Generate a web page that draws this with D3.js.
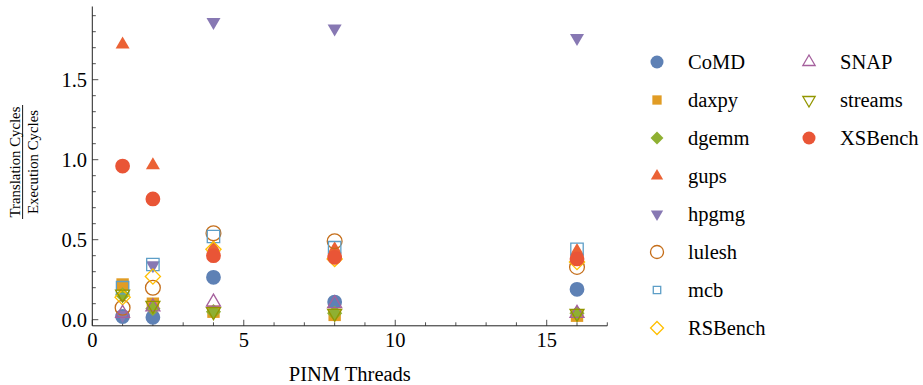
<!DOCTYPE html>
<html><head><meta charset="utf-8">
<script src="https://cdn.jsdelivr.net/npm/d3@7"></script>
<style>
html,body{margin:0;padding:0;background:#fff;}
svg{display:block;}
</style></head>
<body>
<svg id="chart" width="923" height="385" font-family="'Liberation Serif', 'Times New Roman', Tinos, 'DejaVu Serif', serif"></svg>
<script>
// ---- data ----
const threads = [1, 2, 4, 8, 16];
const seriesNames = ["CoMD","daxpy","dgemm","gups","hpgmg","lulesh","mcb","RSBench","SNAP","streams","XSBench"];
const CoMD    = [0.02, 0.015, 0.265, 0.11, 0.19];
const daxpy   = [0.22, 0.10, 0.05, 0.03, 0.025];
const dgemm   = [0.155, 0.07, 0.05, 0.04, 0.04];
const gups    = [1.72, 0.965, 0.45, 0.44, 0.43];
const hpgmg   = [0.03, 0.34, 1.86, 1.82, 1.76];
const lulesh  = [0.075, 0.20, 0.54, 0.49, 0.33];
const mcb     = [0.20, 0.345, 0.52, 0.45, 0.44];
const RSBench = [0.14, 0.27, 0.44, 0.38, 0.36];
const SNAP    = [0.04, 0.08, 0.11, 0.10, 0.04];
const streams = [0.16, 0.09, 0.05, 0.04, 0.04];
const XSBench = [0.96, 0.755, 0.40, 0.39, 0.38];
const seriesValues = [CoMD, daxpy, dgemm, gups, hpgmg, lulesh, mcb, RSBench, SNAP, streams, XSBench];
const colors = ["#5E81B5","#E19C24","#8FB032","#EB6235","#8778B3","#C56E1A","#5D9EC7","#FFBF00","#A5609D","#929600","#E95536"];
const shapes = ["circle","square","diamond","up","down","circle","square","diamond","up","down","circle"];
const filled = [true,true,true,true,true,false,false,false,false,false,true];
const xTicks = [0, 5, 10, 15];
const yTicks = [0.0, 0.5, 1.0, 1.5];
const xLabel = "PINM Threads";
const yLabelNum = "Translation Cycles";
const yLabelDen = "Execution Cycles";

// ---- layout ----
const svg = d3.select("#chart");
const x = d3.scaleLinear().domain([0, 17]).range([92.3, 607.3]);
const y = d3.scaleLinear().domain([0, 1.5]).range([319.7, 79.7]);
const axisY = 325.8;
const axisTopY = 6.5;

function shapePath(shape, s) {
  switch (shape) {
    case "circle": {
      const r = 7.4 * s;
      return `M${r},0A${r},${r},0,1,1,${-r},0A${r},${r},0,1,1,${r},0Z`;
    }
    case "square": {
      const h = 6.2 * s;
      return `M${-h},${-h}H${h}V${h}H${-h}Z`;
    }
    case "diamond": {
      const h = 7.6 * s;
      return `M0,${-h}L${h},0L0,${h}L${-h},0Z`;
    }
    case "up": {
      const w = 7 * s, t = 8 * s, b = 4 * s;
      return `M0,${-t}L${w},${b}L${-w},${b}Z`;
    }
    case "down": {
      const w = 7 * s, t = 8 * s, b = 4 * s;
      return `M0,${t}L${w},${-b}L${-w},${-b}Z`;
    }
  }
}

function drawMarker(g, i, s) {
  const p = g.append("path").attr("d", shapePath(shapes[i], s));
  if (filled[i]) p.attr("fill", colors[i]).attr("stroke", "none");
  else p.attr("fill", "none").attr("stroke", colors[i]).attr("stroke-width", 1.3);
}

// ---- axes ----
const axisColor = "#222";
const ax = svg.append("g");
ax.append("line").attr("x1", x(0)).attr("x2", x(17)).attr("y1", axisY).attr("y2", axisY)
  .attr("stroke", axisColor).attr("stroke-width", 1);
ax.append("line").attr("x1", x(0)).attr("x2", x(0)).attr("y1", axisY).attr("y2", axisTopY)
  .attr("stroke", axisColor).attr("stroke-width", 1);

d3.range(0, 18).forEach(v => {
  const major = v % 5 === 0;
  ax.append("line").attr("x1", x(v)).attr("x2", x(v))
    .attr("y1", axisY).attr("y2", axisY - (major ? 6 : 3.5))
    .attr("stroke", axisColor).attr("stroke-width", 0.8);
});
xTicks.forEach(v => {
  ax.append("text").attr("x", x(v)).attr("y", 347).attr("text-anchor", "middle")
    .attr("font-size", 20.5).text(d3.format("d")(v));
});
d3.range(0, 20).forEach(k => {
  const v = k / 10;
  const major = k % 5 === 0;
  ax.append("line").attr("x1", x(0)).attr("x2", x(0) + (major ? 6 : 3.5))
    .attr("y1", y(v)).attr("y2", y(v))
    .attr("stroke", axisColor).attr("stroke-width", 0.8);
});
yTicks.forEach(v => {
  ax.append("text").attr("x", 87).attr("y", y(v)).attr("dy", "0.35em").attr("text-anchor", "end")
    .attr("font-size", 20.5).text(d3.format(".1f")(v));
});

svg.append("text").attr("x", (x(0) + x(17)) / 2).attr("y", 381).attr("text-anchor", "middle")
  .attr("font-size", 20.5).text(xLabel);
const yl = svg.append("g").attr("transform", "translate(0,162) rotate(-90)");
yl.append("text").attr("x", 0).attr("y", 20).attr("text-anchor", "middle").attr("font-size", 14.8).text(yLabelNum);
yl.append("line").attr("x1", -57).attr("x2", 57).attr("y1", 22.6).attr("y2", 22.6).attr("stroke", "#000").attr("stroke-width", 0.9);
yl.append("text").attr("x", 0).attr("y", 38).attr("text-anchor", "middle").attr("font-size", 14.8).text(yLabelDen);

// ---- points ----
const pts = svg.append("g");
seriesValues.forEach((vals, i) => {
  vals.forEach((v, j) => {
    const g = pts.append("g").attr("transform", `translate(${x(threads[j])},${y(v)})`);
    drawMarker(g, i, 1);
  });
});

// ---- legend ----
const legCols = [{mx: 657, tx: 688}, {mx: 809, tx: 840}];
const legRowY = d3.scaleLinear().domain([0, 7]).range([62, 328]);
seriesNames.forEach((name, i) => {
  const col = i < 8 ? 0 : 1;
  const row = i < 8 ? i : i - 8;
  const cy = legRowY(row);
  const g = svg.append("g").attr("transform", `translate(${legCols[col].mx},${cy})`);
  let s = 0.88;
  if (shapes[i] === "square") s = filled[i] ? 0.75 : 0.6;
  if (shapes[i] === "diamond") s = 0.85;
  drawMarker(g, i, s);
  svg.append("text").attr("x", legCols[col].tx).attr("y", cy).attr("dy", "0.33em")
    .attr("font-size", 20.5).text(name);
});
</script>
</body></html>
